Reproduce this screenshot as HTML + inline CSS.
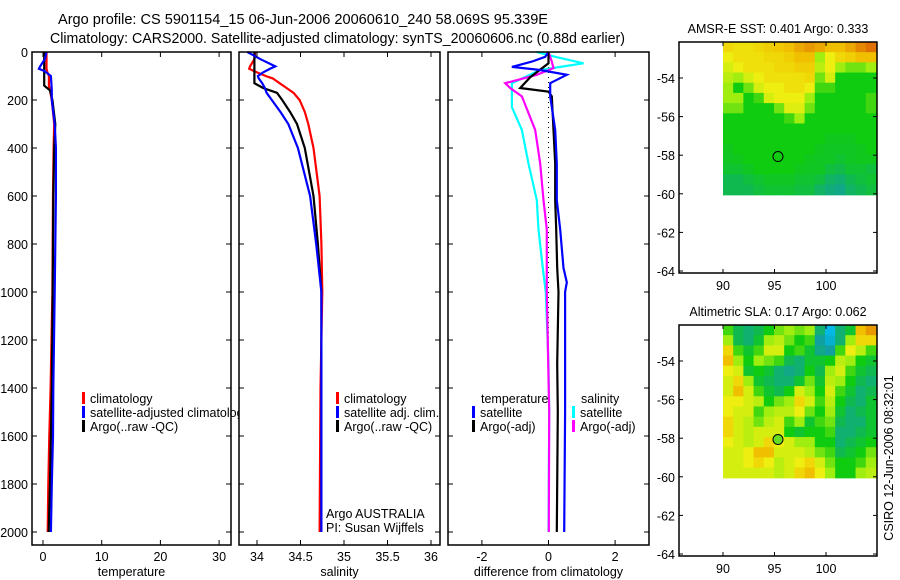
<!DOCTYPE html>
<html><head><meta charset="utf-8"><style>
html,body{margin:0;padding:0;background:#fff;}
svg{display:block;font-family:"Liberation Sans",sans-serif;}
</style></head><body>
<svg id="fig" width="900" height="580" viewBox="0 0 900 580" xmlns="http://www.w3.org/2000/svg">
<text x="58" y="24" font-size="14.5" textLength="490" lengthAdjust="spacingAndGlyphs">Argo profile: CS 5901154_15 06-Jun-2006 20060610_240 58.069S 95.339E</text>
<text x="50" y="43" font-size="14.5" textLength="575" lengthAdjust="spacingAndGlyphs">Climatology: CARS2000. Satellite-adjusted climatology: synTS_20060606.nc (0.88d earlier)</text>
<g id="content"></g>
</svg>
<script>
// ---- profile data (depth in dbar) ----
const depthsTemp = [0,30,60,70,80,100,140,160,200,300,400,600,1000,1400,1600,1800,2000];
const tempClim   = [0.6,0.6,0.6,0.6,0.7,1.0,1.0,1.2,1.5,1.9,1.8,1.7,1.6,1.3,1.07,0.9,0.8];
const tempSat    = [0.6,0.3,-0.5,-0.7,0.3,1.35,1.45,1.5,1.5,2.0,2.2,2.2,2.0,1.75,1.7,1.5,1.35];
const tempArgo   = [0.2,0.2,0.2,0.2,0.2,0.2,0.2,1.2,1.6,2.1,1.9,1.75,1.65,1.5,1.35,1.2,0.97];

const depthsSal = [0,30,60,70,85,100,110,130,150,170,200,250,300,400,600,800,1000,1400,2000];
const salClim   = [33.98,33.97,33.92,33.91,34.0,34.1,34.18,34.26,34.34,34.42,34.49,34.55,34.59,34.65,34.72,34.74,34.75,34.73,34.72];
const salSat    = [33.89,34.04,34.21,34.15,34.07,34.01,34.02,34.06,34.09,34.11,34.17,34.27,34.36,34.47,34.61,34.68,34.74,34.74,34.74];
const salArgo   = [33.97,33.97,33.97,33.97,33.97,33.97,33.97,33.97,34.07,34.23,34.29,34.38,34.46,34.55,34.65,34.70,34.74,34.74,34.74];

const dTsatDepth = [0,20,40,62,75,95,130,185,325,465,617,740,900,960,1000,1100,1300,1500,2000];
const dTsat      = [0,-0.1,-0.5,-1.1,-0.25,0.55,0.05,0.05,0.2,0.25,0.25,0.35,0.45,0.55,0.5,0.5,0.5,0.5,0.47];
const dTargoDepth= [0,47,105,150,165,185,325,465,617,740,900,1000,1300,1500,2000];
const dTargo     = [0,0,-0.55,-0.85,0,0.1,0.15,0.2,0.2,0.23,0.26,0.3,0.26,0.28,0.25];
const dSsatDepth = [0,20,47,75,130,230,325,465,617,740,900,1000,1300,1500,2000];
const dSsat      = [-0.35,0.2,1.05,-0.25,-1.1,-1.1,-0.8,-0.6,-0.35,-0.3,-0.17,-0.08,0,0.02,0.0];
const dSargoDepth= [0,40,67,95,130,150,185,325,465,617,740,1000,1500,2000];
const dSargo     = [0,0.1,0.15,-0.35,-1.3,-1.15,-0.8,-0.4,-0.25,-0.15,-0.05,-0.05,0.02,0.01];

const depthTicks = [0,200,400,600,800,1000,1200,1400,1600,1800,2000];
const tempTicks = [0,10,20,30];
const salTicks = [34,34.5,35,35.5,36];
const salTickLabels = ["34","34.5","35","35.5","36"];
const diffTicks = [-2,0,2];
const lonTicks = [90,95,100];
const latTicks = [-54,-56,-58,-60,-62,-64];

// map grids (normalised values 0..1 on colour scale), rows north->south
const sstGrid = [
[0.8,0.78,0.78,0.8,0.82,0.83,0.85,0.88,0.9,0.88,0.85,0.85,0.88,0.92,0.95],
[0.75,0.78,0.78,0.78,0.8,0.8,0.82,0.85,0.85,0.6,0.75,0.8,0.82,0.85,0.85],
[0.7,0.75,0.78,0.78,0.78,0.8,0.8,0.82,0.82,0.65,0.75,0.6,0.55,0.55,0.6],
[0.65,0.6,0.7,0.75,0.78,0.78,0.78,0.78,0.8,0.55,0.7,0.45,0.45,0.45,0.45],
[0.6,0.45,0.55,0.7,0.75,0.75,0.78,0.78,0.75,0.5,0.5,0.45,0.45,0.45,0.45],
[0.6,0.6,0.45,0.5,0.7,0.75,0.75,0.75,0.6,0.45,0.45,0.45,0.45,0.45,0.5],
[0.55,0.55,0.45,0.45,0.45,0.55,0.72,0.72,0.55,0.45,0.45,0.45,0.45,0.45,0.5],
[0.45,0.45,0.45,0.45,0.45,0.45,0.5,0.6,0.45,0.45,0.45,0.45,0.45,0.45,0.45],
[0.45,0.45,0.45,0.45,0.45,0.45,0.45,0.45,0.45,0.45,0.45,0.45,0.45,0.45,0.45],
[0.45,0.45,0.45,0.45,0.45,0.45,0.45,0.45,0.45,0.45,0.43,0.43,0.43,0.45,0.45],
[0.43,0.45,0.45,0.45,0.45,0.45,0.45,0.45,0.45,0.43,0.42,0.42,0.42,0.43,0.45],
[0.42,0.43,0.45,0.45,0.45,0.45,0.45,0.45,0.43,0.42,0.42,0.4,0.42,0.43,0.43],
[0.4,0.4,0.42,0.45,0.45,0.45,0.45,0.43,0.42,0.42,0.38,0.36,0.4,0.4,0.38],
[0.35,0.35,0.38,0.4,0.42,0.42,0.42,0.4,0.4,0.38,0.32,0.3,0.35,0.38,0.4],
[0.35,0.35,0.35,0.38,0.4,0.4,0.4,0.38,0.38,0.32,0.28,0.25,0.32,0.35,0.38]];
const slaGrid = [
[0.5,0.35,0.3,0.35,0.45,0.55,0.6,0.55,0.6,0.3,0.05,0.3,0.4,0.85,0.9],
[0.6,0.35,0.3,0.4,0.6,0.65,0.55,0.45,0.5,0.2,0.1,0.3,0.6,0.8,0.8],
[0.8,0.5,0.4,0.5,0.7,0.7,0.45,0.5,0.4,0.25,0.2,0.5,0.75,0.65,0.5],
[0.85,0.6,0.45,0.6,0.55,0.5,0.35,0.3,0.4,0.4,0.45,0.65,0.6,0.45,0.4],
[0.75,0.7,0.4,0.45,0.4,0.3,0.25,0.3,0.45,0.35,0.6,0.7,0.5,0.4,0.35],
[0.7,0.8,0.6,0.4,0.35,0.3,0.3,0.4,0.55,0.4,0.65,0.6,0.45,0.35,0.3],
[0.7,0.85,0.7,0.5,0.4,0.35,0.45,0.7,0.6,0.45,0.7,0.5,0.4,0.3,0.35],
[0.75,0.75,0.7,0.65,0.45,0.55,0.6,0.8,0.7,0.5,0.65,0.45,0.35,0.3,0.4],
[0.75,0.7,0.7,0.5,0.6,0.65,0.65,0.75,0.55,0.45,0.6,0.4,0.3,0.35,0.4],
[0.8,0.7,0.65,0.55,0.65,0.7,0.5,0.6,0.4,0.5,0.55,0.35,0.3,0.3,0.4],
[0.8,0.7,0.65,0.7,0.7,0.7,0.45,0.4,0.45,0.45,0.5,0.3,0.3,0.35,0.4],
[0.75,0.7,0.65,0.7,0.8,0.75,0.7,0.6,0.6,0.45,0.45,0.3,0.35,0.4,0.45],
[0.7,0.7,0.75,0.85,0.85,0.7,0.7,0.7,0.65,0.55,0.5,0.35,0.4,0.45,0.55],
[0.7,0.7,0.75,0.8,0.75,0.65,0.7,0.75,0.8,0.7,0.55,0.45,0.45,0.5,0.6],
[0.7,0.7,0.7,0.7,0.7,0.65,0.7,0.8,0.85,0.75,0.6,0.45,0.45,0.6,0.65]];
const argoLon = 95.339, argoLat = -58.069;

const NS="http://www.w3.org/2000/svg";
const root=document.getElementById('content');
function mk(tag,attrs,parent,text){const e=document.createElementNS(NS,tag);for(const k in attrs)e.setAttribute(k,attrs[k]);if(text!==undefined)e.textContent=text;(parent||root).appendChild(e);return e;}

const yTop=52, yPerDb=48/200, boxTop=52, boxBot=545;
const yD=d=>yTop+d*yPerDb;
const panels=[
 {name:'temperature',left:32,right:231,x:v=>43+v*5.87},
 {name:'salinity',left:239,right:440,x:v=>257+(v-34)*87},
 {name:'difference',left:448,right:649,x:v=>548.5+v*33.3}];

function drawBox(p){
  const r=mk('rect',{x:p.left,y:boxTop,width:p.right-p.left,height:boxBot-boxTop,fill:'#fff',stroke:'none'});
  
  
}
function drawFrame(p,ticks,labels,xlabel,showY){
  const g=mk('g',{});
  
  
  mk('rect',{x:p.left,y:boxTop,width:p.right-p.left,height:boxBot-boxTop,fill:'none',stroke:'#000','stroke-width':1.5},g);
  depthTicks.forEach(d=>{
    const y=yD(d);
    mk('line',{x1:p.left,x2:p.left+5,y1:y,y2:y,stroke:'#000'},g);
    mk('line',{x1:p.right-5,x2:p.right,y1:y,y2:y,stroke:'#000'},g);
    if(showY){const t=mk('text',{x:p.left-4,y:y+5,'font-size':12.5,'text-anchor':'end'},g,String(d));
      }
  });
  ticks.forEach((v,i)=>{
    const x=p.x(v);
    mk('line',{x1:x,x2:x,y1:boxTop,y2:boxTop+5,stroke:'#000'},g);
    mk('line',{x1:x,x2:x,y1:boxBot-5,y2:boxBot,stroke:'#000'},g);
    const t=mk('text',{x:x,y:561,'font-size':12.5,'text-anchor':'middle'},g,labels[i]);
    
  });
  const xl=mk('text',{x:(p.left+p.right)/2,y:576,'font-size':12.5,'text-anchor':'middle'},g,xlabel);
  
}
function line(p,depths,vals,color,name){
  const pts=depths.map((d,i)=>p.x(vals[i]).toFixed(1)+','+yD(d).toFixed(1)).join(' ');
  const l=mk('polyline',{points:pts,fill:'none',stroke:color,'stroke-width':2.2});
  
  
}
function legendItem(x,y,color,text,name){
  const g=mk('g',{});
  
  
  if(color)mk('rect',{x:x,y:y-10,width:3,height:12,fill:color},g);
  mk('text',{x:x+8,y:y+1,'font-size':12.5},g,text);
}

const p1=panels[0],p2=panels[1],p3=panels[2];
drawBox(p1);
line(p1,depthsTemp,tempClim,'#f00','temp-climatology-line');
line(p1,depthsTemp,tempArgo,'#000','temp-argo-line');
line(p1,depthsTemp,tempSat,'#00f','temp-satellite-line');
legendItem(82,402,'#f00','climatology','legend-temp-climatology');
legendItem(82,416,'#00f','satellite-adjusted climatology','legend-temp-satellite');
legendItem(82,430,'#000','Argo(..raw -QC)','legend-temp-argo');
drawBox(p2);
line(p2,depthsSal,salClim,'#f00','sal-climatology-line');
line(p2,depthsSal,salArgo,'#000','sal-argo-line');
line(p2,depthsSal,salSat,'#00f','sal-satellite-line');
legendItem(336,402,'#f00','climatology','legend-sal-climatology');
legendItem(336,416,'#00f','satellite adj. clim.','legend-sal-satellite');
legendItem(336,430,'#000','Argo(..raw -QC)','legend-sal-argo');
legendItem(318,517,null,'Argo AUSTRALIA','credit-argo-australia');
legendItem(318,531,null,'PI: Susan Wijffels','credit-pi');
drawBox(p3);
mk('line',{x1:p3.x(0),x2:p3.x(0),y1:yD(0),y2:yD(2000),stroke:'#000','stroke-dasharray':'1,4'});
line(p3,dSsatDepth,dSsat,'#0ff','diff-sal-satellite-line');
line(p3,dSargoDepth,dSargo,'#f0f','diff-sal-argo-line');
line(p3,dTargoDepth,dTargo,'#000','diff-temp-argo-line');
line(p3,dTsatDepth,dTsat,'#00f','diff-temp-satellite-line');
legendItem(473,402,null,'temperature','legend-diff-temperature-header');
legendItem(472,416,'#00f','satellite','legend-diff-temp-satellite');
legendItem(472,430,'#000','Argo(-adj)','legend-diff-temp-argo');
legendItem(573,402,null,'salinity','legend-diff-salinity-header');
legendItem(572,416,'#0ff','satellite','legend-diff-sal-satellite');
legendItem(572,430,'#f0f','Argo(-adj)','legend-diff-sal-argo');

drawFrame(p1,tempTicks,tempTicks.map(String),'temperature',true);
drawFrame(p2,salTicks,salTickLabels,'salinity',false);
drawFrame(p3,diffTicks,diffTicks.map(String),'difference from climatology',false);

// ---- maps ----
const stops=[[0,[0,192,255]],[0.2,[16,160,160]],[0.3,[16,176,112]],[0.45,[16,204,16]],[0.6,[160,238,16]],[0.75,[238,238,16]],[0.85,[240,192,0]],[0.95,[224,112,0]],[1,[200,80,0]]];
function cmap(v){for(let i=1;i<stops.length;i++){if(v<=stops[i][0]){const a=stops[i-1],b=stops[i],t=(v-a[0])/(b[0]-a[0]);return 'rgb('+a[1].map((c,k)=>Math.round(c+(b[1][k]-c)*t)).join(',')+')';}}return 'rgb(200,80,0)';}
function drawMap(top,grid,title,name,filled){
  const left=679,right=877,h=231;
  const lx=lon=>723+(lon-90)*10.3;
  const ly=lat=>top+36+(-54-lat)*19.3;
  const g=mk('g',{});
  
  
  const x0=lx(90),x1=lx(104.85),y0=top,y1=ly(-60.05);
  const nr=grid.length,nc=grid[0].length,cw=(x1-x0)/nc,ch=(y1-y0)/nr;
  grid.forEach((row,r)=>row.forEach((v,c)=>{
    const cell=mk('rect',{x:(x0+c*cw).toFixed(2),y:(y0+r*ch).toFixed(2),width:(cw+0.6).toFixed(2),height:(ch+0.6).toFixed(2),fill:cmap(v)},g);
    
    
  }));
  mk('rect',{x:left,y:top,width:right-left,height:h,fill:'none',stroke:'#000','stroke-width':1.5},g);
  lonTicks.forEach(l=>{const x=lx(l);
    mk('line',{x1:x,x2:x,y1:top,y2:top+4,stroke:'#000'},g);mk('line',{x1:x,x2:x,y1:top+h-4,y2:top+h,stroke:'#000'},g);
    const t=mk('text',{x:x,y:top+h+17,'font-size':12.5,'text-anchor':'middle'},g,String(l));
    });
  latTicks.forEach(l=>{const y=ly(l);
    mk('line',{x1:left,x2:left+4,y1:y,y2:y,stroke:'#000'},g);mk('line',{x1:right-4,x2:right,y1:y,y2:y,stroke:'#000'},g);
    const t=mk('text',{x:left-4,y:y+5,'font-size':12.5,'text-anchor':'end'},g,String(l));
    });
  const c=mk('circle',{cx:lx(argoLon),cy:ly(argoLat),r:5,fill:filled?'#66dd22':'none',stroke:'#000'},g);
  
  const tt=mk('text',{x:778,y:top-9,'font-size':12.5,'text-anchor':'middle'},g,title);
  
}
drawMap(42,sstGrid,'AMSR-E SST: 0.401 Argo: 0.333','sst-map',false);
drawMap(325,slaGrid,'Altimetric SLA: 0.17 Argo: 0.062','sla-map',true);
const stamp=mk('text',{x:0,y:0,'font-size':12.5,'text-anchor':'middle',transform:'translate(893,458) rotate(-90)'},root,'CSIRO 12-Jun-2006 08:32:01');


</script>
</body></html>
